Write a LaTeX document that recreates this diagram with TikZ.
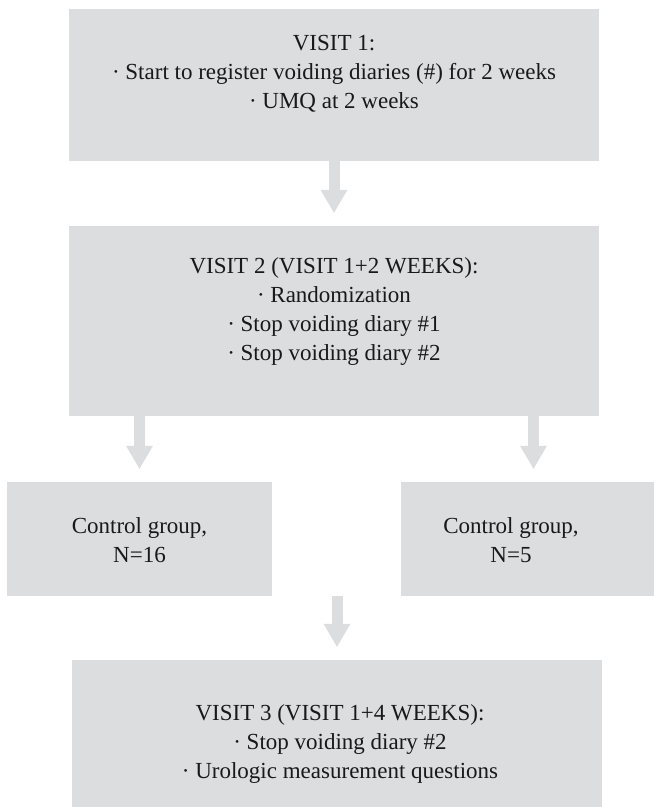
\documentclass[tikz,border=0pt]{standalone}
\usepackage{fontspec}
\setmainfont{Liberation Serif}
\usepackage{tikz}
\usetikzlibrary{
    arrows.meta
}
\definecolor{boxgray}{HTML}{DCDDDF}

\begin{document}
\begin{tikzpicture}[x=1pt,y=-1pt,
    stagebox/.style={fill=boxgray, inner sep=0pt},
    stagetext/.style={align=center, inner sep=0pt, text=black!90,
        font=\fontsize{23}{29}\selectfont},
    flowarrow/.style={boxgray, line width=11pt, shorten >=13pt,
        -{Triangle[width=27pt,length=23pt,line width=0pt]}}
]
\useasboundingbox (0,0) rectangle (654,807);
\clip (0,0) rectangle (654,807);

% Visit boxes
\node[stagebox, minimum width=530pt, minimum height=152pt] (visit1) at (334,85) {};
\node[stagebox, minimum width=530pt, minimum height=190pt] (visit2) at (334,321) {};
\node[stagebox, minimum width=530pt, minimum height=190pt] (visit3) at (337,755) {};

% Group boxes
\node[stagebox, minimum width=265pt, minimum height=114pt] (control1) at (139.5,539) {};
\node[stagebox, minimum width=265pt, minimum height=114pt] (control2) at (533.5,539) {};

% Texts
\node[stagetext] (visit1text) at (334,74)
    {VISIT 1:\\ · Start to register voiding diaries (\#) for 2 weeks\\ · UMQ at 2 weeks};
\node[stagetext] (visit2text) at (334,311)
    {VISIT 2 (VISIT 1+2 WEEKS):\\ · Randomization\\ · Stop voiding diary \#1\\ · Stop voiding diary \#2};
\node[stagetext] (control1text) at (139.5,540) {Control group,\\ N=16};
\node[stagetext] (control2text) at (511,540) {Control group,\\ N=5};
\node[stagetext] (visit3text) at (340,744)
    {VISIT 3 (VISIT 1+4 WEEKS):\\ · Stop voiding diary \#2\\ · Urologic measurement questions};

% Flow arrows
\draw[flowarrow] (visit1) -- (visit2);
\draw[flowarrow] (visit2.south -| control1.north) -- (control1.north);
\draw[flowarrow] (visit2.south -| control2.north) -- (control2.north);
\draw[flowarrow] (control1.south -| visit3.north) -- (visit3.north);
\end{tikzpicture}
\end{document}
